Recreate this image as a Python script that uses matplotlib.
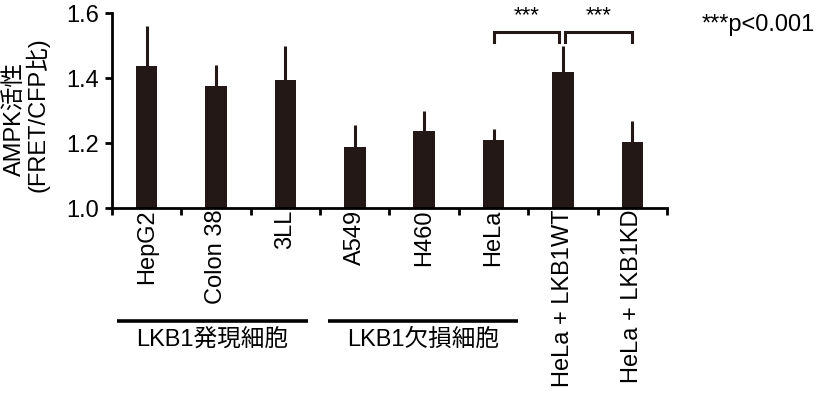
import matplotlib
matplotlib.use('Agg')
from matplotlib import pyplot as plt
import numpy as np

plt.rcParams['font.family'] = ['Liberation Sans', 'Noto Sans CJK JP', 'DejaVu Sans']

# data
cells = ['HepG2', 'Colon 38', '3LL', 'A549', 'H460', 'HeLa',
         'HeLa + LKB1WT', 'HeLa + LKB1KD']
ampk = [1.439, 1.375, 1.394, 1.188, 1.239, 1.210, 1.418, 1.204]
err_up = [0.123, 0.065, 0.106, 0.067, 0.061, 0.033, 0.081, 0.065]
groups = ['LKB1発現細胞', 'LKB1欠損細胞']
group_span = [(-0.43, 2.32), (2.61, 5.35)]
yticks = [1.0, 1.2, 1.4, 1.6]

barcol = '#231815'
fs = 17

fig = plt.figure(figsize=(8.18, 3.96), dpi=100)
ax = fig.add_axes([0.1369, 0.474, 0.8154 - 0.1369, 0.9664 - 0.474])

x = np.arange(len(cells))
ax.bar(x, ampk, width=0.31, color=barcol, zorder=2)
ax.errorbar(x, ampk, yerr=[np.zeros(len(x)), err_up], fmt='none',
            ecolor=barcol, elinewidth=2.2, capsize=0, zorder=1)

ax.set_xlim(-0.5, 7.5)
ax.set_ylim(1.0, 1.6)
ax.set_yticks(yticks)
ax.set_yticklabels(['%.1f' % v for v in yticks], fontsize=fs)
ax.set_xticks(x)
ax.set_xticklabels(cells, rotation=90, fontsize=fs, va='top', ha='center')
ax.set_xticks(np.arange(-0.5, 8, 1), minor=True)
ax.tick_params(axis='x', which='major', length=0, pad=1)
ax.tick_params(axis='x', which='minor', length=5, width=2, direction='out')
ax.tick_params(axis='y', length=5, width=2, direction='out', pad=4)
for s in ['top', 'right']:
    ax.spines[s].set_visible(False)
for s in ['left', 'bottom']:
    ax.spines[s].set_linewidth(2)

# significance brackets
brackets = [(5.0, 5.94, '***'), (6.03, 7.0, '***')]
ytop, ybot = 1.5415, 1.513
for x0, x1, lab in brackets:
    ax.plot([x0, x0, x1, x1], [ybot, ytop, ytop, ybot], color=barcol,
            lw=2.2, clip_on=False, solid_joinstyle='miter')
    ax.text((x0 + x1) / 2, 1.592, lab, ha='center', va='center',
            fontsize=16, clip_on=False)

fig.text(0.858, 0.937, '***p<0.001', ha='left', va='center', fontsize=fs)

# y label
fig.text(0.018, 0.70, 'AMPK活性', rotation=90, ha='center', va='center', fontsize=fs)
fig.text(0.046, 0.71, '(FRET/CFP比)', rotation=90, ha='center', va='center', fontsize=fs)

# group lines
trans = matplotlib.transforms.blended_transform_factory(ax.transData, fig.transFigure)
for (g0, g1), name in zip(group_span, groups):
    ax.plot([g0, g1], [0.19, 0.19], color='black', lw=2.6, transform=trans,
            clip_on=False, solid_capstyle='butt')
    ax.text((g0 + g1) / 2, 0.141, name, ha='center', va='center',
            fontsize=fs, transform=trans)

fig.savefig('out.png', dpi=100)
